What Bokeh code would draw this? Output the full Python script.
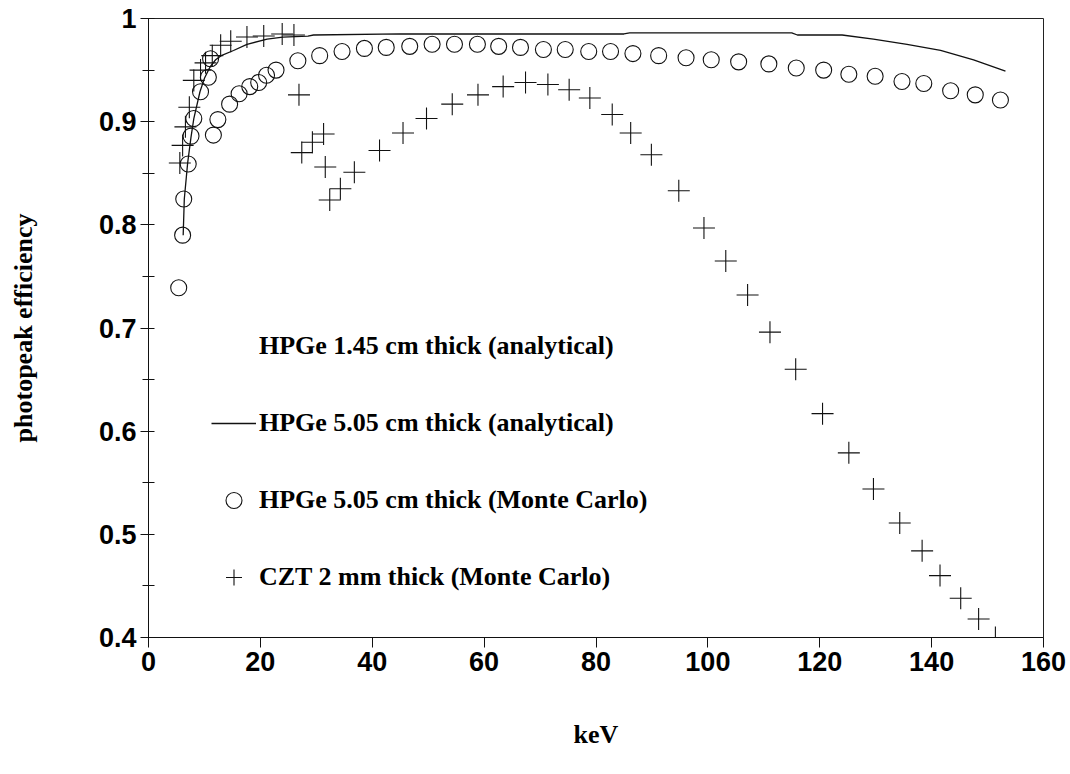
from bokeh.plotting import figure
from bokeh.models import FixedTicker, Legend, LegendItem, Range1d
from bokeh.embed import file_html
from bokeh.resources import INLINE

# ---- data ----
# HPGe 5.05 cm thick (analytical) -- solid line
ana505_kev = [6.2, 6.4, 7.0, 7.6, 8.1, 9.2, 10.0, 11.0, 12.0, 13.0, 15.2, 17.6, 21.2, 24.0,
              28.5, 29.5, 45.0, 85.0, 86.0, 115.0, 116.0, 124.0, 129.6, 135.6, 141.6, 147.5, 153.2]
ana505_eff = [0.79, 0.825, 0.86, 0.885, 0.903, 0.929, 0.942, 0.953, 0.960, 0.964, 0.969, 0.975,
              0.980, 0.982, 0.983, 0.984, 0.985, 0.985, 0.986, 0.986, 0.984, 0.984, 0.980, 0.975,
              0.969, 0.960, 0.949]

# HPGe 1.45 cm thick (analytical) -- not visible in the reference (legend text only)
ana145_kev = []
ana145_eff = []

# HPGe 5.05 cm thick (Monte Carlo) -- open circles
mc505_kev = [5.4, 6.1, 6.3, 7.1, 7.6, 8.1, 9.3, 10.7, 11.1,
             11.6, 12.4, 14.5, 16.2, 18.1, 19.7, 21.1, 22.8,
             26.7, 30.6, 34.6, 38.6, 42.5, 46.7, 50.7, 54.7, 58.8, 62.6, 66.5, 70.6, 74.5, 78.7,
             82.6, 86.6, 91.2, 96.1, 100.6, 105.5, 110.9, 115.8, 120.7, 125.2, 129.9, 134.7,
             138.6, 143.4, 147.8, 152.3]
mc505_eff = [0.739, 0.79, 0.825, 0.859, 0.886, 0.903, 0.929, 0.943, 0.961,
             0.887, 0.902, 0.917, 0.927, 0.934, 0.938, 0.945, 0.950,
             0.959, 0.964, 0.968, 0.971, 0.972, 0.973, 0.975, 0.975, 0.975, 0.973, 0.972, 0.970,
             0.970, 0.968, 0.968, 0.966, 0.964, 0.962, 0.960, 0.958, 0.956, 0.952, 0.950, 0.946,
             0.944, 0.939, 0.937, 0.930, 0.926, 0.921]

# CZT 2 mm thick (Monte Carlo) -- crosses
czt_kev = [5.6, 6.1, 6.6, 7.3, 8.1, 9.3, 10.2, 11.4, 12.9, 14.7, 17.6, 20.6, 23.9, 26.0,
           26.9, 27.4, 29.3, 31.3, 31.6, 32.4, 34.3, 36.8, 41.3, 45.5, 49.7, 54.3, 58.9,
           63.4, 67.4, 71.4, 75.2, 78.9, 82.9, 86.2, 89.9, 94.8, 99.3, 103.2, 107.1, 111.1,
           115.7, 120.5, 125.2, 129.6, 134.3, 138.3, 141.5, 145.2, 148.4, 151.4]
czt_eff = [0.860, 0.877, 0.895, 0.914, 0.940, 0.950, 0.957, 0.964, 0.974, 0.978, 0.982, 0.983,
           0.985, 0.984, 0.926, 0.870, 0.880, 0.888, 0.856, 0.824, 0.835, 0.851, 0.872, 0.889,
           0.903, 0.917, 0.926, 0.934, 0.938, 0.936, 0.931, 0.923, 0.907, 0.889, 0.868, 0.833,
           0.797, 0.765, 0.732, 0.696, 0.660, 0.617, 0.579, 0.544, 0.511, 0.484, 0.460, 0.438,
           0.418, 0.400]

x_ticks = [0, 20, 40, 60, 80, 100, 120, 140, 160]
y_ticks = [0.4, 0.5, 0.6, 0.7, 0.8, 0.9, 1.0]
y_minor = [0.45, 0.55, 0.65, 0.75, 0.85, 0.95]
y_tick_labels = {0.4: "0.4", 0.5: "0.5", 0.6: "0.6", 0.7: "0.7", 0.8: "0.8", 0.9: "0.9", 1.0: "1"}

legend_labels = ["HPGe 1.45 cm thick (analytical)",
                 "HPGe 5.05 cm thick (analytical)",
                 "HPGe 5.05 cm thick (Monte Carlo)",
                 "CZT 2 mm thick (Monte Carlo)"]

# ---- figure ----
p = figure(width=1070, height=774, output_backend="svg", toolbar_location=None,
           x_range=Range1d(0, 160), y_range=Range1d(0.4, 1.0),
           min_border_left=148, min_border_right=27, min_border_top=18, min_border_bottom=137)
p.background_fill_color = "white"
p.border_fill_color = "white"
p.outline_line_color = "#222222"
p.outline_line_width = 1
p.xgrid.visible = False
p.ygrid.visible = False

INK = "#111111"
TICK_FONT = "Liberation Sans"

# axes
p.xaxis.ticker = FixedTicker(ticks=x_ticks)
p.xaxis.axis_line_color = INK
p.xaxis.major_tick_line_color = INK
p.xaxis.major_tick_out = 10
p.xaxis.major_tick_in = 0
p.xaxis.minor_tick_line_color = None
p.xaxis.major_label_text_font = TICK_FONT
p.xaxis.major_label_text_font_style = "bold"
p.xaxis.major_label_text_font_size = "27px"
p.xaxis.major_label_text_color = "black"
p.xaxis.major_label_standoff = 4
p.xaxis.axis_label = "keV"
p.xaxis.axis_label_text_font = "Liberation Serif"
p.xaxis.axis_label_text_font_style = "bold"
p.xaxis.axis_label_text_font_size = "26px"
p.xaxis.axis_label_text_color = "black"
p.xaxis.axis_label_standoff = 46

p.yaxis.ticker = FixedTicker(ticks=y_ticks, minor_ticks=y_minor)
p.yaxis.major_label_overrides = y_tick_labels
p.yaxis.axis_line_color = INK
p.yaxis.major_tick_line_color = INK
p.yaxis.minor_tick_line_color = INK
p.yaxis.major_tick_out = 8
p.yaxis.major_tick_in = 6
p.yaxis.minor_tick_out = 6
p.yaxis.minor_tick_in = 6
p.yaxis.major_label_text_font = TICK_FONT
p.yaxis.major_label_text_font_style = "bold"
p.yaxis.major_label_text_font_size = "27px"
p.yaxis.major_label_text_color = "black"
p.yaxis.major_label_standoff = 4
p.yaxis.axis_label = "photopeak efficiency"
p.yaxis.axis_label_text_font = "Liberation Serif"
p.yaxis.axis_label_text_font_style = "bold"
p.yaxis.axis_label_text_font_size = "26px"
p.yaxis.axis_label_text_color = "black"
p.yaxis.axis_label_standoff = 58

# ---- series ----
r145 = p.line(ana145_kev, ana145_eff, line_color="#bbbbbb", line_alpha=0.0, line_width=1)
r505 = p.line(ana505_kev, ana505_eff, line_color=INK, line_width=1.3)
rmc = p.scatter(mc505_kev, mc505_eff, marker="circle", size=16, fill_color=None,
                line_color=INK, line_width=1.1)
rczt = p.scatter(czt_kev, czt_eff, marker="cross", size=22, line_color=INK, line_width=1.1)

legend = Legend(items=[LegendItem(label=legend_labels[0], renderers=[r145]),
                       LegendItem(label=legend_labels[1], renderers=[r505]),
                       LegendItem(label=legend_labels[2], renderers=[rmc]),
                       LegendItem(label=legend_labels[3], renderers=[rczt])],
                location=(63, 40), orientation="vertical",
                background_fill_alpha=0.0, border_line_color=None,
                label_text_font="Liberation Serif", label_text_font_style="bold",
                label_text_font_size="26px", label_text_color="black",
                glyph_width=45, glyph_height=40, label_height=26, label_standoff=3,
                spacing=37, padding=0, margin=0)
p.add_layout(legend)

open("out.html", "w").write(file_html(p, INLINE))
